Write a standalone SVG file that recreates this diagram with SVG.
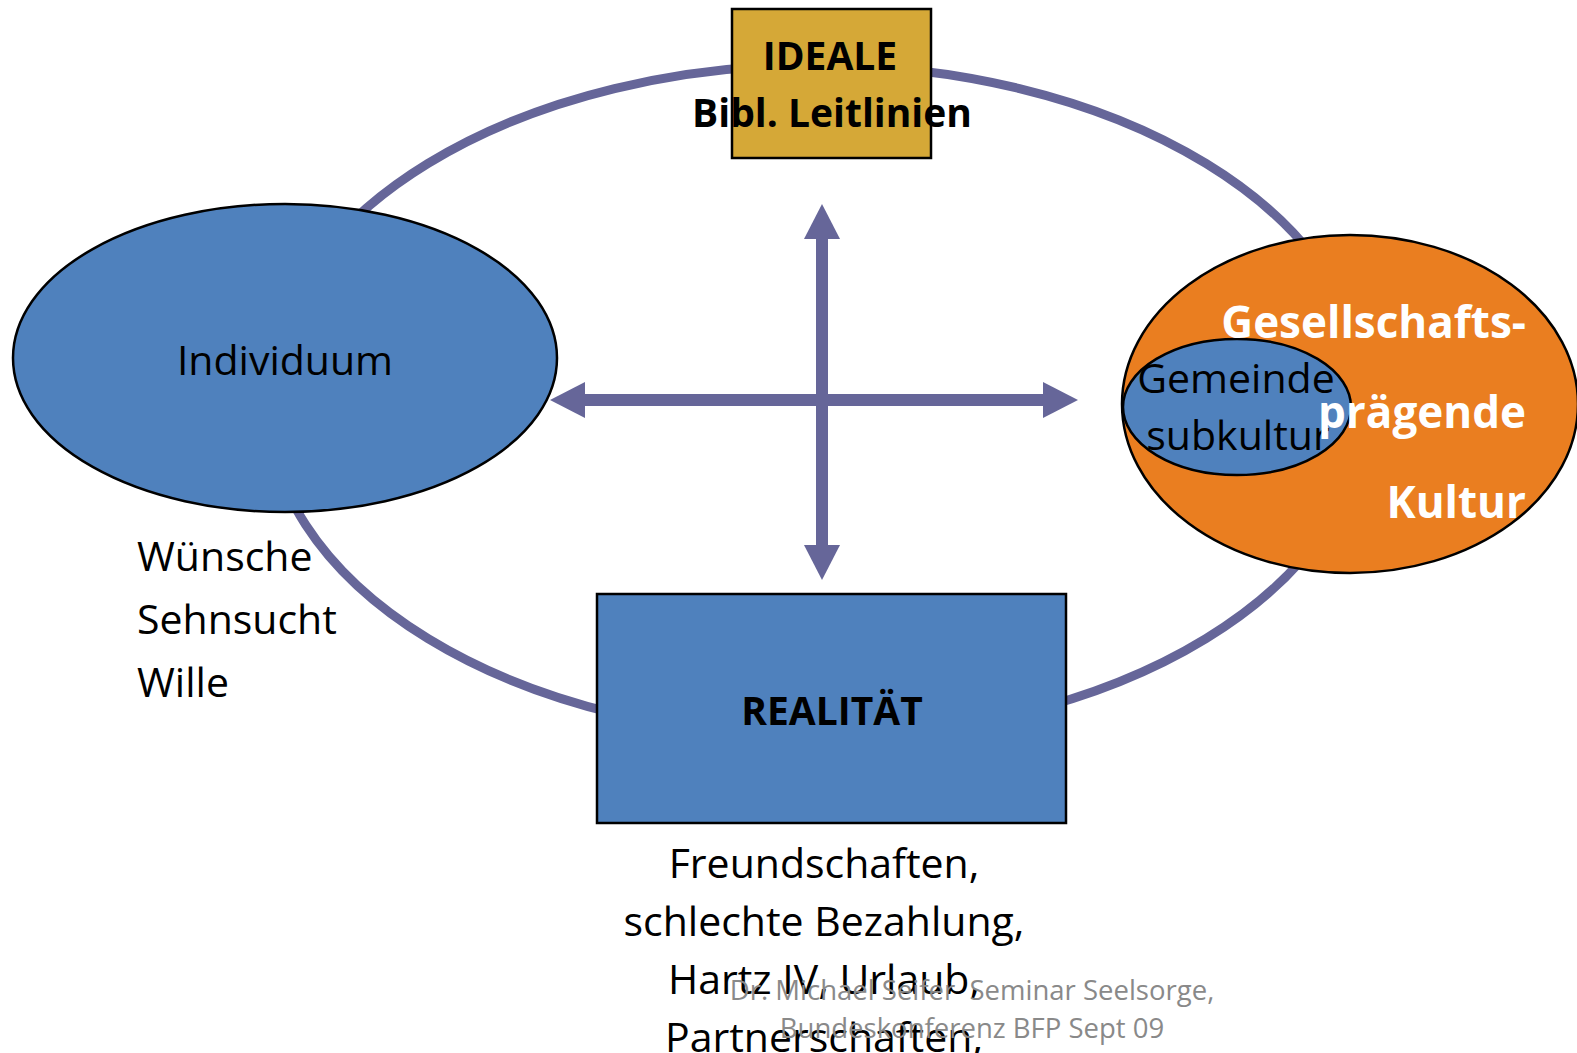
<svg xmlns="http://www.w3.org/2000/svg" width="1577" height="1053" viewBox="0 0 1577 1053">
<style>
  .t { font-family: "Open Sans", "Noto Sans", "DejaVu Sans", sans-serif; font-size: 41px; fill: #000; }
  .b { font-weight: bold; font-size: 39px; }
  .w { fill: #FFFFFF; font-weight: bold; font-size: 44px; }
  .foot { font-size: 27.5px; fill: #898989; white-space: pre; }
  .blue { fill: #4F81BD; stroke: #000; stroke-width: 2.5; }
  .conn { stroke: #666699; stroke-width: 12; fill: none; }
</style>
<defs>
  <marker id="ah" viewBox="0 -18 35 36" markerWidth="35" markerHeight="36" refX="0" refY="0" markerUnits="userSpaceOnUse" orient="auto-start-reverse">
    <path d="M0,-18 L35,0 L0,18 Z" fill="#666699"/>
  </marker>
</defs>
<rect width="1577" height="1053" fill="#FFFFFF"/>

<g id="cycle">
  <ellipse cx="817" cy="401" rx="550" ry="336" fill="none" stroke="#666699" stroke-width="9"/>
</g>

<g id="connectors">
  <line class="conn" x1="585" y1="400" x2="1043" y2="400" marker-start="url(#ah)" marker-end="url(#ah)"/>
  <line class="conn" x1="822" y1="239" x2="822" y2="545" marker-start="url(#ah)" marker-end="url(#ah)"/>
</g>

<g id="ideale">
  <rect x="732" y="9" width="199" height="149" fill="#D5A837" stroke="#000" stroke-width="2.5"/>
  <text class="t b" x="830" y="70" text-anchor="middle">IDEALE</text>
  <text class="t b" x="832" y="127" text-anchor="middle">Bibl. Leitlinien</text>
</g>

<g id="individuum">
  <ellipse class="blue" cx="285" cy="358" rx="272" ry="154"/>
  <text class="t" x="285" y="375" text-anchor="middle">Individuum</text>
</g>

<g id="individuum-notes">
  <text class="t" x="137" y="571">Wünsche</text>
  <text class="t" x="137" y="634">Sehnsucht</text>
  <text class="t" x="137" y="697">Wille</text>
</g>

<g id="kultur">
  <ellipse cx="1350" cy="404" rx="228" ry="169" fill="#EA7E20" stroke="#000" stroke-width="2.5"/>
  <ellipse class="blue" cx="1237" cy="407" rx="114" ry="68"/>
  <text class="t" x="1236" y="393" text-anchor="middle">Gemeinde</text>
  <text class="t" x="1238" y="450" text-anchor="middle">subkultur</text>
  <text class="t w" x="1526" y="338" text-anchor="end">Gesellschafts-</text>
  <text class="t w" x="1526" y="428" text-anchor="end">prägende</text>
  <text class="t w" x="1526" y="518" text-anchor="end">Kultur</text>
</g>

<g id="realitaet">
  <rect class="blue" x="597" y="594" width="469" height="229"/>
  <text class="t b" x="832" y="725" text-anchor="middle">REALITÄT</text>
</g>

<g id="realitaet-notes">
  <text class="t" x="824" y="878" text-anchor="middle">Freundschaften,</text>
  <text class="t" x="824" y="936" text-anchor="middle">schlechte Bezahlung,</text>
  <text class="t" x="824" y="994" text-anchor="middle">Hartz IV, Urlaub,</text>
  <text class="t" x="824" y="1052" text-anchor="middle">Partnerschaften,</text>
</g>

<g id="footer">
  <text class="t foot" x="972" y="1000" text-anchor="middle" xml:space="preserve">Dr. Michael Seifer  Seminar Seelsorge,</text>
  <text class="t foot" x="972" y="1038" text-anchor="middle">Bundeskonferenz BFP Sept 09</text>
</g>
</svg>
